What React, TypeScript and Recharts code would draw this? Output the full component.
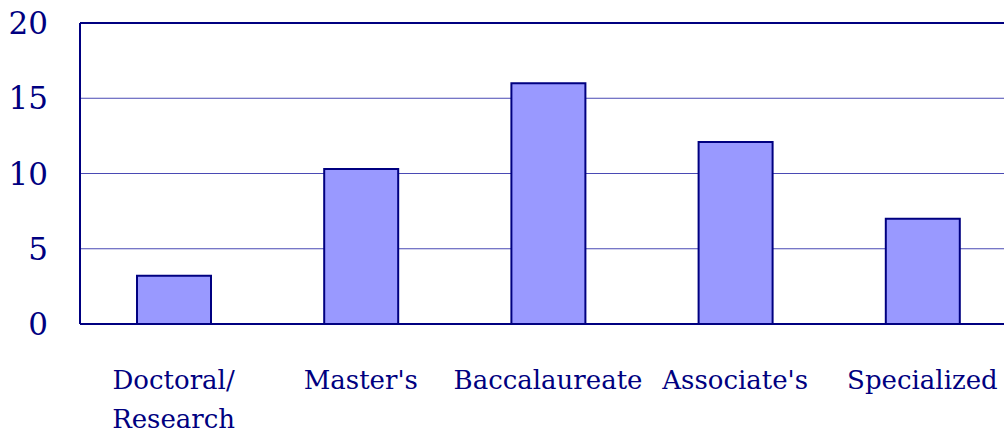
import { BarChart, Bar, XAxis, YAxis, CartesianGrid, ReferenceLine } from "recharts";

const categories = ["Doctoral/\nResearch", "Master's", "Baccalaureate", "Associate's", "Specialized"];
const values = [3.2, 10.3, 16.0, 12.1, 7.0];
const yTicks = [0, 5, 10, 15, 20];

const data = categories.map((name, i) => ({ name, value: values[i] }));

const NAVY = "#000080";
const FONT = "'DejaVu Serif', serif";

interface TickProps {
  x?: number;
  y?: number;
  payload?: { value: string };
}

const CategoryTick = ({ x = 0, y = 0, payload }: TickProps) => {
  const lines = String(payload?.value ?? "").split("\n");
  return (
    <g transform={`translate(${x},${y})`}>
      {lines.map((line, i) => (
        <text
          key={i}
          x={0}
          y={57 + i * 39}
          textAnchor="middle"
          fill={NAVY}
          fontSize={26}
          fontFamily={FONT}
        >
          {line}
        </text>
      ))}
    </g>
  );
};

export default function App() {
  if (typeof document !== "undefined") document.body.style.margin = "0";
  return (
    <div style={{ width: 1004, height: 436, background: "#fff", overflow: "hidden" }}>
      <BarChart
        width={1004}
        height={436}
        data={data}
        margin={{ top: 23, right: -12, bottom: 0, left: 0 }}
      >
        <CartesianGrid vertical={false} stroke="#4a4ab4" strokeWidth={1} />
        <ReferenceLine y={20} stroke={NAVY} strokeWidth={2} />
        <XAxis
          dataKey="name"
          height={112}
          axisLine={{ stroke: NAVY, strokeWidth: 2 }}
          tickLine={false}
          interval={0}
          tick={<CategoryTick />}
        />
        <YAxis
          domain={[0, 20]}
          ticks={yTicks}
          width={80}
          axisLine={{ stroke: NAVY, strokeWidth: 2 }}
          tickLine={false}
          tickMargin={26}
          tick={{ fontSize: 31, fill: NAVY, fontFamily: FONT }}
        />
        <Bar
          dataKey="value"
          fill="#9999ff"
          stroke={NAVY}
          strokeWidth={2}
          barSize={74}
          isAnimationActive={false}
        />
      </BarChart>
    </div>
  );
}
